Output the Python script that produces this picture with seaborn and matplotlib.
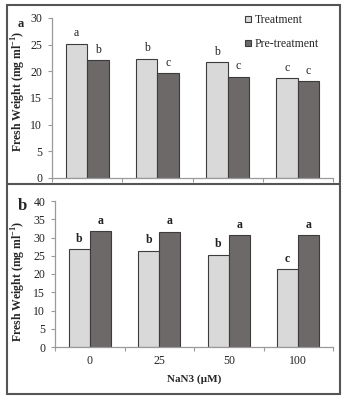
import numpy as np
import pandas as pd
import matplotlib
matplotlib.use("Agg")
import matplotlib.pyplot as plt
from matplotlib.patches import Rectangle
from matplotlib.lines import Line2D
import seaborn as sns

sns.set_theme(style="white")
plt.rcParams["font.family"] = ["Liberation Serif", "DejaVu Serif"]

# Data
doses = ["0", "25", "50", "100"]
series = ["Treatment", "Pre-treatment"]
panel_a_treatment = [25.2, 22.4, 21.7, 18.8]
panel_a_pretreatment = [22.1, 19.7, 19.0, 18.2]
panel_a_letters_treatment = ["a", "b", "b", "c"]
panel_a_letters_pretreatment = ["b", "c", "c", "c"]
panel_b_treatment = [26.8, 26.4, 25.3, 21.4]
panel_b_pretreatment = [31.8, 31.6, 30.6, 30.6]
panel_b_letters_treatment = ["b", "b", "b", "c"]
panel_b_letters_pretreatment = ["a", "a", "a", "a"]

colors = {"Treatment": "#d9d9d9", "Pre-treatment": "#6e6969"}

W, H = 349, 404
fig = plt.figure(figsize=(W / 100, H / 100), dpi=100)


def px_axes(left, right, top, bottom):
    return fig.add_axes([left / W, 1 - bottom / H, (right - left) / W, (bottom - top) / H])


def draw_panel(ax, treat, pre, lt, lp, ymax, step, letter_weight, label_xy):
    df = pd.DataFrame({
        "dose": doses * 2,
        "group": [series[0]] * 4 + [series[1]] * 4,
        "value": treat + pre,
    })
    sns.barplot(data=df, x="dose", y="value", hue="group", order=doses,
                hue_order=series, palette=colors, width=0.61, ax=ax,
                edgecolor="#3c3c3c", linewidth=0.8, errorbar=None,
                saturation=1, legend=False)
    ax.set_ylim(0, ymax)
    ax.set_xlim(-0.5, 3.5)
    ax.set_yticks(np.arange(0, ymax + 0.1, step))
    ax.tick_params(axis="y", which="major", length=3, width=0.8, color="#9a9a9a",
                   labelsize=8.5, labelcolor="#222222", pad=4, left=True)
    ax.set_xticks([-0.5, 0.5, 1.5, 2.5, 3.5], minor=True)
    ax.tick_params(axis="x", which="minor", length=3, width=0.8, color="#9a9a9a",
                   bottom=True, direction="out")
    ax.tick_params(axis="x", which="major", length=0, labelsize=8.5,
                   labelcolor="#222222", pad=6)
    for s in ["top", "right"]:
        ax.spines[s].set_visible(False)
    for s in ["left", "bottom"]:
        ax.spines[s].set_color("#9a9a9a")
        ax.spines[s].set_linewidth(0.9)
    ax.set_xlabel("")
    ax.set_ylabel("Fresh Weight (mg ml$^{\\mathregular{-1}}$)", fontsize=8.5,
                  fontweight="bold")
    ax.yaxis.set_label_coords(*label_xy)
    # letters above the bars
    conts = ax.containers
    for cont, vals, letters in zip(conts, [treat, pre], [lt, lp]):
        for bar, v, l in zip(cont, vals, letters):
            ax.annotate(l, (bar.get_x() + bar.get_width() / 2, v),
                        xytext=(0, 3), textcoords="offset points",
                        ha="center", va="bottom", fontsize=8.5,
                        fontweight=letter_weight, color="#222222")


ax1 = px_axes(52, 333, 18, 178)
draw_panel(ax1, panel_a_treatment, panel_a_pretreatment,
           panel_a_letters_treatment, panel_a_letters_pretreatment, 30, 5, "normal",
           ((28 - 52) / 281, (178 - 91) / 160))
ax1.set_xticklabels([])

ax2 = px_axes(55, 333, 201, 347)
draw_panel(ax2, panel_b_treatment, panel_b_pretreatment,
           panel_b_letters_treatment, panel_b_letters_pretreatment, 40, 5, "bold",
           ((28 - 55) / 278, (347 - 281) / 146))
ax2.set_xlabel("NaN3 (\u00b5M)", fontsize=8, fontweight="bold", labelpad=5)

# legend
handles = [Line2D([], [], marker="s", linestyle="none", markersize=5,
                  markerfacecolor=colors[s], markeredgecolor="#3c3c3c",
                  markeredgewidth=0.8) for s in series]
fig.legend(handles, series, loc="upper left",
           bbox_to_anchor=(244 / W, 1 - 14 / H),
           frameon=False, fontsize=8.5, handlelength=0.7, handletextpad=0.2,
           labelspacing=1.0, borderaxespad=0, borderpad=0)

# panel labels
fig.text(21 / W, 1 - 24 / H, "a", fontsize=9, fontweight="bold", ha="center", va="center")
fig.text(22 / W, 1 - 206 / H, "b", fontsize=12, fontweight="bold", ha="center", va="center")

# panel frames
fig.patches.append(Rectangle((7 / W, 1 - 394 / H), (340 - 7) / W, (394 - 5) / H,
                             transform=fig.transFigure, fill=False,
                             edgecolor="#555555", linewidth=1.5))
fig.lines.append(Line2D([7 / W, 340 / W], [1 - 184 / H, 1 - 184 / H],
                        transform=fig.transFigure, color="#555555", linewidth=1.5))

fig.savefig("out.png", dpi=100, facecolor="white")
